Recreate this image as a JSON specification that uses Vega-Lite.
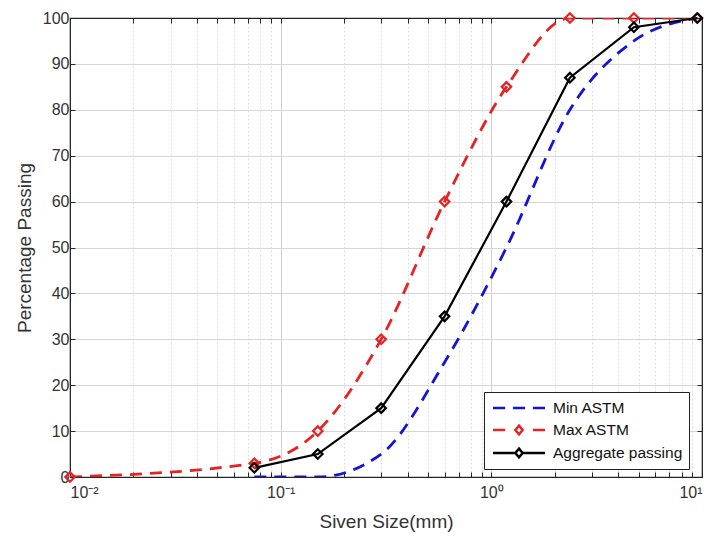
{
  "$schema": "https://vega.github.io/schema/vega-lite/v6.json",
  "width": 632,
  "height": 459,
  "autosize": {"type": "none"},
  "padding": {"left": 70, "top": 18, "right": 13, "bottom": 60},
  "background": "white",
  "config": {
    "view": {"stroke": "#262626", "strokeWidth": 1.2},
    "font": "Liberation Sans",
    "axis": {
      "labelFont": "Liberation Sans",
      "titleFont": "Liberation Sans",
      "labelFontSize": 16,
      "titleFontSize": 19,
      "labelColor": "#333333",
      "titleColor": "#333333",
      "titleFontWeight": "normal",
      "domainColor": "#262626",
      "tickColor": "#262626",
      "gridColor": "#d0d0d0"
    }
  },
  "data": {
    "values": [
      {"size": 0.075, "pct": 0, "series": "Min ASTM"},
      {"size": 0.15, "pct": 0, "series": "Min ASTM"},
      {"size": 0.3, "pct": 5, "series": "Min ASTM"},
      {"size": 0.6, "pct": 25, "series": "Min ASTM"},
      {"size": 1.18, "pct": 50, "series": "Min ASTM"},
      {"size": 2.36, "pct": 80, "series": "Min ASTM"},
      {"size": 4.75, "pct": 95, "series": "Min ASTM"},
      {"size": 9.5, "pct": 100, "series": "Min ASTM"},
      {"size": 0.01, "pct": 0, "series": "Max ASTM"},
      {"size": 0.075, "pct": 3, "series": "Max ASTM"},
      {"size": 0.15, "pct": 10, "series": "Max ASTM"},
      {"size": 0.3, "pct": 30, "series": "Max ASTM"},
      {"size": 0.6, "pct": 60, "series": "Max ASTM"},
      {"size": 1.18, "pct": 85, "series": "Max ASTM"},
      {"size": 2.36, "pct": 100, "series": "Max ASTM"},
      {"size": 4.75, "pct": 100, "series": "Max ASTM"},
      {"size": 9.5, "pct": 100, "series": "Max ASTM"},
      {"size": 0.075, "pct": 2, "series": "Aggregate passing"},
      {"size": 0.15, "pct": 5, "series": "Aggregate passing"},
      {"size": 0.3, "pct": 15, "series": "Aggregate passing"},
      {"size": 0.6, "pct": 35, "series": "Aggregate passing"},
      {"size": 1.18, "pct": 60, "series": "Aggregate passing"},
      {"size": 2.36, "pct": 87, "series": "Aggregate passing"},
      {"size": 4.75, "pct": 98, "series": "Aggregate passing"},
      {"size": 9.5, "pct": 100, "series": "Aggregate passing"}
    ]
  },
  "encoding": {
    "x": {
      "field": "size",
      "type": "quantitative",
      "scale": {"type": "log", "domain": [0.01, 10], "nice": false},
      "axis": {
        "title": "Siven Size(mm)",
        "values": [0.01, 0.02, 0.03, 0.04, 0.05, 0.06, 0.07, 0.08, 0.09, 0.1, 0.2, 0.3, 0.4, 0.5, 0.6, 0.7, 0.8, 0.9, 1, 2, 3, 4, 5, 6, 7, 8, 9, 10],
        "labelExpr": "datum.value == 0.01 ? '10⁻²' : datum.value == 0.1 ? '10⁻¹' : datum.value == 1 ? '10⁰' : datum.value == 10 ? '10¹' : ''",
        "tickSize": -5,
        "labelPadding": 12,
        "titlePadding": 12,
        "grid": true,
        "gridDash": {"condition": {"test": "datum.value == 0.01 || datum.value == 0.1 || datum.value == 1 || datum.value == 10", "value": []}, "value": [2, 2]},
        "gridColor": {"condition": {"test": "datum.value == 0.01 || datum.value == 0.1 || datum.value == 1 || datum.value == 10", "value": "#cfcfcf"}, "value": "#dddddd"}
      }
    },
    "y": {
      "field": "pct",
      "type": "quantitative",
      "scale": {"domain": [0, 100], "nice": false},
      "axis": {
        "title": "Percentage Passing",
        "values": [0, 10, 20, 30, 40, 50, 60, 70, 80, 90, 100],
        "tickSize": -5,
        "labelPadding": 6,
        "titlePadding": 8,
        "grid": true,
        "gridColor": "#d6d6d6"
      }
    },
    "color": {
      "field": "series",
      "type": "nominal",
      "scale": {"domain": ["Min ASTM", "Max ASTM", "Aggregate passing"], "range": ["#1414d2", "#e42424", "#000000"]},
      "legend": {
        "title": null,
        "orient": "none",
        "legendX": 414,
        "legendY": 374,
        "symbolSize": 300,
        "symbolOffset": 19,
        "symbolStrokeWidth": 2.5,
        "symbolOpacity": 1,
        "symbolFillColor": "transparent",
        "labelOffset": 24,
        "labelFontSize": 15.5,
        "labelColor": "#111111",
        "labelFont": "Liberation Sans",
        "rowPadding": 3,
        "padding": 6,
        "strokeColor": "#222222",
        "fillColor": "white",
        "labelLimit": 300
      }
    }
  },
  "resolve": {"axis": {"x": "independent", "y": "independent"}},
  "layer": [
    {
      "layer": [
        {
          "transform": [{"filter": "datum.series == 'Min ASTM'"}],
          "mark": {"type": "line", "interpolate": "monotone", "strokeWidth": 2.8, "strokeDash": [12, 8], "clip": true}
        },
        {
          "transform": [{"filter": "datum.series == 'Max ASTM'"}],
          "mark": {"type": "line", "interpolate": "monotone", "strokeWidth": 2.8, "strokeDash": [12, 8], "clip": true}
        },
        {
          "transform": [{"filter": "datum.series == 'Aggregate passing'"}],
          "mark": {"type": "line", "strokeWidth": 2.2}
        },
        {
          "transform": [{"filter": "datum.series != 'Min ASTM'"}],
          "mark": {"type": "point", "shape": "diamond", "filled": false, "size": 90, "strokeWidth": 2.2, "opacity": 1}
        }
      ]
    },
    {
      "mark": {"type": "point", "filled": false, "opacity": 0},
      "encoding": {
        "shape": {
          "field": "series",
          "type": "nominal",
          "scale": {
            "domain": ["Min ASTM", "Max ASTM", "Aggregate passing"],
            "range": [
              "M-3,0L-1.6,0M-0.7,0L0.7,0M1.6,0L3,0",
              "M-3,0L-1.6,0M1.6,0L3,0M0,-0.5L0.42,0L0,0.5L-0.42,0Z",
              "M-3,0L-0.42,0M0.42,0L3,0M0,-0.5L0.42,0L0,0.5L-0.42,0Z"
            ]
          }
        },
        "x": {
          "field": "size",
          "type": "quantitative",
          "axis": {
            "orient": "top",
            "title": null,
            "labels": false,
            "grid": false,
            "values": [0.01, 0.02, 0.03, 0.04, 0.05, 0.06, 0.07, 0.08, 0.09, 0.1, 0.2, 0.3, 0.4, 0.5, 0.6, 0.7, 0.8, 0.9, 1, 2, 3, 4, 5, 6, 7, 8, 9, 10],
            "tickSize": -5
          }
        },
        "y": {
          "field": "pct",
          "type": "quantitative",
          "axis": {
            "orient": "right",
            "title": null,
            "labels": false,
            "grid": false,
            "values": [0, 10, 20, 30, 40, 50, 60, 70, 80, 90, 100],
            "tickSize": -5
          }
        }
      }
    }
  ]
}
